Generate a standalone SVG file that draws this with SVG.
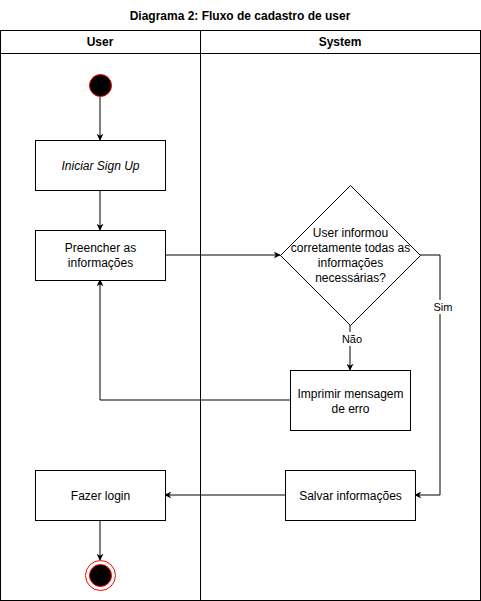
<svg xmlns="http://www.w3.org/2000/svg" width="481" height="601" viewBox="0 0 481 601">
<style>
text{font-family:"Liberation Sans",Arial,sans-serif;font-size:12px;fill:#000}
.b{font-weight:bold}
.box{fill:#fff;stroke:#000;stroke-width:1}
.ln{fill:none;stroke:#000;stroke-width:1}
.lbl{font-size:11px}
</style>
<defs>
<marker id="ar" viewBox="0 0 10 10" refX="9" refY="5" markerWidth="7" markerHeight="7" markerUnits="userSpaceOnUse" orient="auto">
<path d="M0,0 L10,5 L0,10 L3,5 Z" fill="#000"/>
</marker>
</defs>
<rect width="481" height="601" fill="#fff"/>
<text class="b" x="240" y="20" text-anchor="middle">Diagrama 2: Fluxo de cadastro de user</text>
<g id="pool">
<rect x="0.5" y="30.5" width="480" height="570" fill="none" stroke="#000" stroke-width="1"/>
<line x1="0" y1="53.5" x2="481" y2="53.5" stroke="#000"/>
<line x1="200.5" y1="30" x2="200.5" y2="601" stroke="#000"/>
<text class="b" x="100" y="46" text-anchor="middle">User</text>
<text class="b" x="340" y="46" text-anchor="middle">System</text>
</g>
<g id="connectors">
<line class="ln" x1="100" y1="97" x2="100" y2="140" marker-end="url(#ar)"/>
<line class="ln" x1="100" y1="190" x2="100" y2="230" marker-end="url(#ar)"/>
<line class="ln" x1="165" y1="255" x2="280" y2="255" marker-end="url(#ar)"/>
<line class="ln" x1="350" y1="325" x2="350" y2="370" marker-end="url(#ar)"/>
<polyline class="ln" points="420,255 440,255 440,495 415,495" marker-end="url(#ar)"/>
<polyline class="ln" points="290,400 100,400 100,280" marker-end="url(#ar)"/>
<line class="ln" x1="285" y1="495" x2="165" y2="495" marker-end="url(#ar)"/>
<line class="ln" x1="100" y1="520" x2="100" y2="560" marker-end="url(#ar)"/>
<rect x="340" y="332" width="22" height="14" fill="#fff"/>
<text class="lbl" x="352" y="343" text-anchor="middle">Não</text>
<rect x="432" y="300" width="22" height="14" fill="#fff"/>
<text class="lbl" x="443" y="311" text-anchor="middle">Sim</text>
</g>
<g id="start">
<circle cx="100.5" cy="85.5" r="11" fill="#000" stroke="#f00" stroke-width="1"/>
</g>
<g id="iniciar">
<rect class="box" x="35.5" y="140.5" width="130" height="50"/>
<text x="100.5" y="170" text-anchor="middle" font-style="italic">Iniciar Sign Up</text>
</g>
<g id="preencher">
<rect class="box" x="35.5" y="230.5" width="130" height="50"/>
<text x="100.5" y="252" text-anchor="middle">Preencher as</text>
<text x="100.5" y="267" text-anchor="middle">informações</text>
</g>
<g id="decisao">
<polygon class="box" points="350.5,185.5 420.5,255.5 350.5,325.5 280.5,255.5"/>
<text x="350.5" y="237" text-anchor="middle">User informou</text>
<text x="350.5" y="252" text-anchor="middle">corretamente todas as</text>
<text x="350.5" y="267" text-anchor="middle">informações</text>
<text x="350.5" y="282" text-anchor="middle">necessárias?</text>
</g>
<g id="imprimir">
<rect class="box" x="290.5" y="370.5" width="120" height="60"/>
<text x="350.5" y="398" text-anchor="middle">Imprimir mensagem</text>
<text x="350.5" y="413" text-anchor="middle">de erro</text>
</g>
<g id="salvar">
<rect class="box" x="285.5" y="470.5" width="130" height="50"/>
<text x="350.5" y="500" text-anchor="middle">Salvar informações</text>
</g>
<g id="login">
<rect class="box" x="35.5" y="470.5" width="130" height="50"/>
<text x="100.5" y="500" text-anchor="middle">Fazer login</text>
</g>
<g id="end">
<circle cx="100.5" cy="575.5" r="15" fill="#fff" stroke="#f00" stroke-width="1"/>
<circle cx="100.5" cy="575.5" r="11" fill="#000" stroke="#f00" stroke-width="1"/>
</g>
</svg>
